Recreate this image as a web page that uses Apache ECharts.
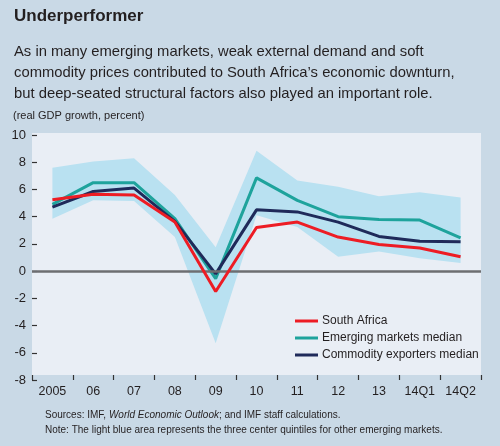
<!DOCTYPE html>
<html><head><meta charset="utf-8">
<script src="https://cdn.jsdelivr.net/npm/echarts@6/dist/echarts.min.js"></script>
<style>html,body{margin:0;padding:0;background:#c9d9e6;}#c{width:500px;height:446px;}</style>
</head><body><div id="c"></div>
<script>
const categories = ['2005','06','07','08','09','10','11','12','13','14Q1','14Q2'];
const southAfrica = [5.25, 5.65, 5.6, 3.6, -1.5, 3.2, 3.6, 2.5, 1.95, 1.7, 1.05];
const emergingMedian = [4.9, 6.5, 6.5, 3.85, -0.55, 6.85, 5.2, 4.0, 3.8, 3.75, 2.45];
const commodityMedian = [4.7, 5.85, 6.1, 3.65, -0.2, 4.5, 4.35, 3.6, 2.55, 2.2, 2.15];
const bandLower = [3.85, 5.2, 5.15, 2.5, -5.3, 4.1, 3.25, 1.05, 1.45, 0.95, 0.6];
const bandUpper = [7.6, 8.05, 8.3, 5.6, 1.75, 8.85, 6.65, 6.2, 5.5, 5.8, 5.4];
const yTicks = [-8, -6, -4, -2, 0, 2, 4, 6, 8, 10];

const FONT = '"Liberation Sans Narrow", "Liberation Sans", Arial, sans-serif';
const TXT = '#231f20';
const bandDiff = bandUpper.map((u, i) => +(u - bandLower[i]).toFixed(2));

const chart = echarts.init(document.getElementById('c'), null, {renderer: 'canvas'});
chart.setOption({
  backgroundColor: '#c9d9e6',
  animation: false,
  textStyle: {fontFamily: FONT, color: TXT},
  graphic: [
    {type: 'rect', z: -10, shape: {x: 32, y: 133, width: 449, height: 242}, style: {fill: '#e9eef5'}},
    {type: 'text', left: 14, top: 8, style: {text: 'Underperformer', font: 'bold 17px ' + FONT, fill: TXT}},
    {type: 'text', left: 14, top: 41, style: {text: 'As in many emerging markets, weak external demand and soft\ncommodity prices contributed to South Africa\u2019s economic downturn,\nbut deep-seated structural factors also played an important role.', font: '14.8px ' + FONT, fill: TXT, lineHeight: 21}},
    {type: 'text', left: 13, top: 110, style: {text: '(real GDP growth, percent)', font: '11px ' + FONT, fill: TXT}},
    {type: 'text', left: 45, top: 410, style: {
      text: '{n|Sources: IMF, }{i|World Economic Outlook}{n|; and IMF staff calculations.}\n{n|Note: The light blue area represents the three center quintiles for other emerging markets.}',
      rich: {n: {font: '10px ' + FONT, fill: TXT, lineHeight: 15}, i: {font: 'italic 10px ' + FONT, fill: TXT, lineHeight: 15}}
    }}
  ],
  grid: {left: 32, right: 19, top: 135, bottom: 66},
  legend: {
    left: 290, top: 310, orient: 'vertical', itemGap: 5, itemWidth: 23, itemHeight: 12,
    icon: 'path://M0,5 L23,5 L23,8 L0,8 Z',
    textStyle: {fontFamily: FONT, fontSize: 12, color: TXT, padding: [0, 0, 0, -1]},
    data: ['South Africa', 'Emerging markets median', 'Commodity exporters median']
  },
  xAxis: {
    type: 'category', data: categories, boundaryGap: true,
    axisLine: {show: false, onZero: false},
    axisTick: {show: true, inside: true, length: 5, interval: 0, lineStyle: {color: '#333', width: 1.2}},
    axisLabel: {fontFamily: FONT, fontSize: 12.5, color: TXT, margin: 5, interval: 0}
  },
  yAxis: {
    type: 'value', min: -8, max: 10, interval: 2,
    axisLine: {show: false},
    splitLine: {show: false},
    axisTick: {show: true, inside: true, length: 5, lineStyle: {color: '#333', width: 1.2}},
    axisLabel: {fontFamily: FONT, fontSize: 13, color: TXT, margin: 6,
      formatter: v => yTicks.includes(v) ? String(v) : ''}
  },
  series: [
    {name: 'bandLower', type: 'line', stack: 'band', stackStrategy: 'all', data: bandLower,
     symbol: 'none', lineStyle: {opacity: 0}, silent: true, z: 1},
    {name: 'bandDiff', type: 'line', stack: 'band', stackStrategy: 'all', data: bandDiff,
     symbol: 'none', lineStyle: {opacity: 0}, areaStyle: {color: '#b9e1f1', opacity: 1}, silent: true, z: 1,
     markLine: {silent: true, symbol: 'none', label: {show: false},
       lineStyle: {color: '#6d6e71', width: 2.5, type: 'solid'}, data: [{yAxis: 0}]}},
    {name: 'Emerging markets median', type: 'line', data: emergingMedian, symbol: 'none',
     lineStyle: {color: '#1ea39c', width: 3}, itemStyle: {color: '#1ea39c'}, z: 3},
    {name: 'Commodity exporters median', type: 'line', data: commodityMedian, symbol: 'none',
     lineStyle: {color: '#1f2a5a', width: 3}, itemStyle: {color: '#1f2a5a'}, z: 4},
    {name: 'South Africa', type: 'line', data: southAfrica, symbol: 'none',
     lineStyle: {color: '#ed1c24', width: 3}, itemStyle: {color: '#ed1c24'}, z: 5}
  ]
});
</script></body></html>
